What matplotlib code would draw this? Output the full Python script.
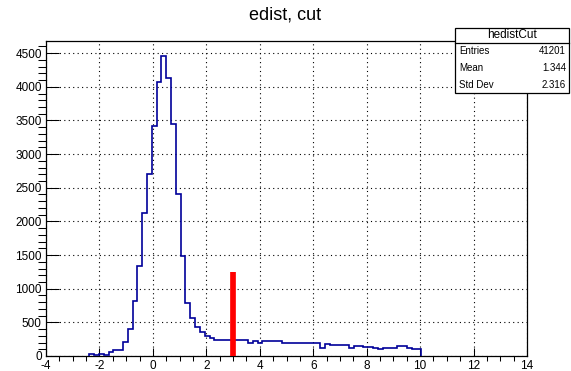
import matplotlib
matplotlib.use("Agg")
import matplotlib.pyplot as plt
import matplotlib.patches as pth
import numpy as np

plt.rcParams['font.family'] = ['Liberation Sans', 'DejaVu Sans']
plt.rcParams['axes.unicode_minus'] = False

# histogram "hedistCut": 100 bins from -4 to 14
x_lo, x_hi, n_bins = -4.0, 14.0, 100
first_bin = 9
counts_read = [25, 20, 25, 20, 64, 89, 89, 203, 401, 822,
               1332, 2124, 2700, 3420, 4075, 4450, 4125, 3450, 2400, 1490,
               792, 559, 426, 351, 302, 262, 240, 238, 238, 236,
               236, 234, 234, 189, 223, 189, 223, 223, 223, 223,
               189, 189, 189, 189, 189, 189, 189, 189, 123, 178,
               163, 163, 163, 163, 123, 153, 153, 138, 138, 123,
               104, 123, 123, 123, 153, 153, 123, 104, 104]

cut_x = 3.0
cut_height = 1250

title = "edist, cut"
hist_name = "hedistCut"
stats_labels = ["Entries", "Mean", "Std Dev"]
stats_values = ["41201", "1.344", "2.316"]

x_ticks = np.arange(-4, 15, 2)
y_ticks = np.arange(0, 4501, 500)
y_max = 4680

edges = np.linspace(x_lo, x_hi, n_bins + 1)
used_edges = edges[first_bin:first_bin + len(counts_read) + 1]

W, H = 571, 371
fig = plt.figure(figsize=(W / 100, H / 100), dpi=100)
left, right, top, bottom = 46, 527, 41, 356
ax = fig.add_axes([left / W, (H - bottom) / H, (right - left) / W, (bottom - top) / H])

ax.stairs(counts_read, used_edges, color='#000099', lw=1.2, zorder=3)
ax.vlines(cut_x, 0, cut_height, color='red', lw=4.1, zorder=4)

ax.set_xlim(x_lo, x_hi)
ax.set_ylim(0, y_max)
ax.set_xticks(x_ticks)
ax.set_xticks(np.arange(-4, 14.01, 0.5), minor=True)
ax.set_yticks(y_ticks)
ax.set_yticks(np.arange(0, y_max, 100), minor=True)
ax.grid(True, which='major', color='black', linestyle=(0, (1, 3)), lw=0.8, zorder=1)

ax.tick_params(direction='in', top=False, right=False, labelsize=8.5, width=0.75, pad=3)
ax.tick_params(axis='x', which='major', length=6)
ax.tick_params(axis='x', which='minor', length=3.6, width=0.75)
ax.tick_params(axis='y', which='major', length=9)
ax.tick_params(axis='y', which='minor', length=5.5, width=0.75)
for s in ax.spines.values():
    s.set_linewidth(0.9)

fig.text(0.5, 1 - 15 / H, title, ha='center', va='center', fontsize=13)

# stats box
bx0, bx1, by0, bsep, by1 = 455, 569, 28, 43, 93
def fx(p):
    return p / W
def fy(p):
    return 1 - p / H
fig.add_artist(pth.Rectangle((fx(bx0), fy(by1)), fx(bx1 - bx0), (by1 - by0) / H,
                             transform=fig.transFigure, facecolor='white', edgecolor='black', lw=0.9, zorder=10))
fig.add_artist(plt.Line2D([fx(bx0), fx(bx1)], [fy(bsep), fy(bsep)], transform=fig.transFigure,
                          color='black', lw=0.9, zorder=11))
fig.text(fx((bx0 + bx1) / 2), fy((by0 + bsep) / 2), hist_name, ha='center', va='center', fontsize=8.5, zorder=12)
row_h = (by1 - bsep) / len(stats_labels)
for i, (lab, val) in enumerate(zip(stats_labels, stats_values)):
    yy = fy(bsep + row_h * (i + 0.5))
    fig.text(fx(bx0 + 4), yy, lab, ha='left', va='center', fontsize=7, zorder=12)
    fig.text(fx(bx1 - 3), yy, val, ha='right', va='center', fontsize=7, zorder=12)

fig.savefig("out.png", dpi=100)
